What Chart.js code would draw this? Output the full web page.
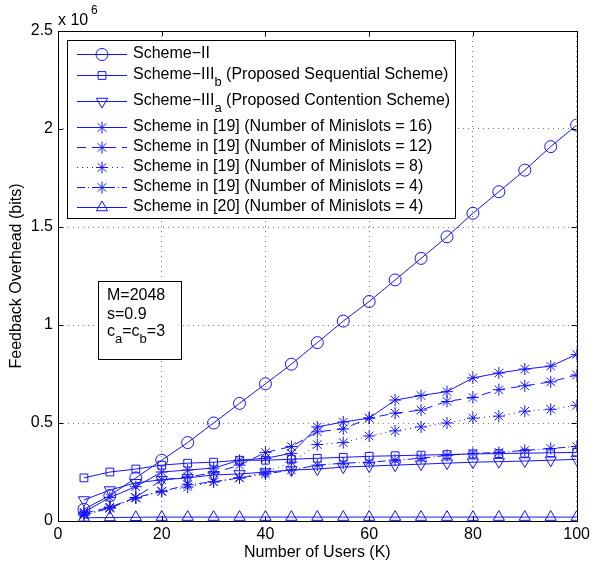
<!DOCTYPE html>
<html>
<head>
<meta charset="utf-8">
<script src="https://cdn.jsdelivr.net/npm/chart.js@4.4.1/dist/chart.umd.min.js"></script>
<style>
  html, body { margin: 0; padding: 0; background: #fff; }
  canvas { display: block; }
</style>
</head>
<body>
<canvas id="chart" width="594" height="565"></canvas>
<script>
// number of users K
const users = [5, 10, 15, 20, 25, 30, 35, 40, 45, 50, 55, 60, 65, 70, 75, 80, 85, 90, 95, 100];

// feedback overhead, in units of 10^6 bits
const schemeII = [0.06, 0.13, 0.22, 0.31, 0.40, 0.50, 0.60, 0.70, 0.80, 0.91, 1.02, 1.12, 1.23, 1.34, 1.45, 1.57, 1.68, 1.79, 1.91, 2.02];
const schemeIIIb = [0.22, 0.25, 0.265, 0.285, 0.295, 0.30, 0.31, 0.31, 0.315, 0.32, 0.325, 0.33, 0.333, 0.336, 0.339, 0.342, 0.344, 0.346, 0.348, 0.35];
const schemeIIIa = [0.107, 0.158, 0.195, 0.21, 0.22, 0.235, 0.24, 0.25, 0.26, 0.265, 0.275, 0.28, 0.285, 0.29, 0.295, 0.30, 0.303, 0.306, 0.31, 0.315];
const ref19m16 = [0.045, 0.12, 0.175, 0.25, 0.26, 0.27, 0.31, 0.32, 0.345, 0.48, 0.505, 0.525, 0.617, 0.64, 0.66, 0.73, 0.755, 0.775, 0.79, 0.85];
const ref19m12 = [0.04, 0.07, 0.12, 0.21, 0.225, 0.245, 0.285, 0.35, 0.38, 0.455, 0.47, 0.525, 0.55, 0.566, 0.61, 0.63, 0.67, 0.69, 0.71, 0.745];
const ref19m8 = [0.035, 0.07, 0.117, 0.153, 0.173, 0.20, 0.22, 0.25, 0.30, 0.39, 0.40, 0.434, 0.46, 0.48, 0.50, 0.525, 0.535, 0.56, 0.57, 0.59];
const ref19m4 = [0.03, 0.065, 0.12, 0.15, 0.185, 0.20, 0.22, 0.24, 0.26, 0.285, 0.295, 0.30, 0.31, 0.32, 0.335, 0.345, 0.35, 0.36, 0.37, 0.38];
const ref20m4 = [0.016, 0.018, 0.019, 0.02, 0.02, 0.02, 0.02, 0.02, 0.02, 0.02, 0.02, 0.02, 0.02, 0.02, 0.02, 0.02, 0.02, 0.02, 0.02, 0.02];

const xTicks = [0, 20, 40, 60, 80, 100];
const yTicks = [0, 0.5, 1, 1.5, 2, 2.5];

const BLUE = 'rgb(20,20,255)';
const FONT = '"Liberation Sans", Arial, Helvetica, sans-serif';
const TXT = 16;

// legend text, pieces with subscript flag
const legendItems = [
  [{ t: 'Scheme\u2212II' }],
  [{ t: 'Scheme\u2212III' }, { t: 'b', sub: true }, { t: ' (Proposed Sequential Scheme)' }],
  [{ t: 'Scheme\u2212III' }, { t: 'a', sub: true }, { t: ' (Proposed Contention Scheme)' }],
  [{ t: 'Scheme in [19] (Number of Minislots = 16)' }],
  [{ t: 'Scheme in [19] (Number of Minislots = 12)' }],
  [{ t: 'Scheme in [19] (Number of Minislots = 8)' }],
  [{ t: 'Scheme in [19] (Number of Minislots = 4)' }],
  [{ t: 'Scheme in [20] (Number of Minislots = 4)' }]
];
const legendRowY = [54, 75, 101, 127, 147, 167, 187, 207];

const toPoints = (vals) => vals.map((v, i) => ({ x: users[i], y: v }));

const makeSet = (vals, style, radius, dash, rotation) => ({
  data: toPoints(vals),
  borderColor: BLUE,
  borderWidth: 1,
  borderDash: dash || [],
  pointStyle: style,
  pointRadius: radius,
  pointRotation: rotation || 0,
  pointBorderColor: BLUE,
  pointBackgroundColor: 'rgba(0,0,0,0)',
  pointBorderWidth: 1,
  fill: false,
  tension: 0
});

const datasets = [
  makeSet(schemeII, 'circle', 6),
  makeSet(schemeIIIb, 'rect', 5.5),
  makeSet(schemeIIIa, 'triangle', 6.5, [], 180),
  makeSet(ref19m16, 'star', 6),
  makeSet(ref19m12, 'star', 6, [9, 6]),
  makeSet(ref19m8, 'star', 6, [1, 4]),
  makeSet(ref19m4, 'star', 6, [8, 3, 1, 3]),
  makeSet(ref20m4, 'triangle', 6.5)
];

function drawMarker(ctx, ds, x, y) {
  ctx.save();
  ctx.strokeStyle = BLUE;
  ctx.fillStyle = 'rgba(0,0,0,0)';
  ctx.lineWidth = 1;
  Chart.helpers.drawPoint(ctx, {
    pointStyle: ds.pointStyle,
    radius: ds.pointRadius,
    rotation: ds.pointRotation,
    borderWidth: 1
  }, x, y);
  ctx.restore();
}

function drawRich(ctx, parts, x, y, size) {
  ctx.textBaseline = 'middle';
  ctx.textAlign = 'left';
  parts.forEach((p) => {
    if (p.sub) {
      ctx.font = (size - 3) + 'px ' + FONT;
      ctx.fillText(p.t, x, y + 7);
    } else {
      ctx.font = size + 'px ' + FONT;
      ctx.fillText(p.t, x, y);
    }
    x += ctx.measureText(p.t).width;
  });
}

const framePlugin = {
  id: 'frame',
  beforeDraw(chart) {
    const ctx = chart.ctx;
    ctx.save();
    ctx.fillStyle = '#fff';
    ctx.fillRect(0, 0, chart.width, chart.height);
    ctx.restore();
  },
  afterDraw(chart) {
    const ctx = chart.ctx;
    const a = chart.chartArea;
    const xs = chart.scales.x, ys = chart.scales.y;
    ctx.save();
    ctx.strokeStyle = '#000';
    ctx.lineWidth = 1;
    ctx.setLineDash([]);
    // axes box
    ctx.strokeRect(Math.round(a.left) + 0.5, Math.round(a.top) + 0.5,
      Math.round(a.right - a.left), Math.round(a.bottom - a.top));
    // inward tick marks
    ctx.beginPath();
    xTicks.forEach((t) => {
      const px = Math.round(xs.getPixelForValue(t)) + 0.5;
      ctx.moveTo(px, a.bottom); ctx.lineTo(px, a.bottom - 5);
      ctx.moveTo(px, a.top); ctx.lineTo(px, a.top + 5);
    });
    yTicks.forEach((t) => {
      const py = Math.round(ys.getPixelForValue(t)) + 0.5;
      ctx.moveTo(a.left, py); ctx.lineTo(a.left + 5, py);
      ctx.moveTo(a.right, py); ctx.lineTo(a.right - 5, py);
    });
    ctx.stroke();

    // exponent label
    ctx.fillStyle = '#000';
    ctx.textBaseline = 'middle';
    ctx.textAlign = 'left';
    ctx.font = TXT + 'px ' + FONT;
    ctx.fillText('x 10', 58, 21);
    ctx.font = '12px ' + FONT;
    ctx.fillText('6', 91, 11);

    // legend box
    ctx.fillStyle = '#fff';
    ctx.fillRect(67.5, 40.5, 388, 178);
    ctx.strokeRect(67.5, 40.5, 388, 178);
    datasets.forEach((ds, i) => {
      const y = legendRowY[i];
      ctx.save();
      ctx.strokeStyle = BLUE;
      ctx.lineWidth = 1;
      ctx.setLineDash(ds.borderDash);
      ctx.beginPath();
      ctx.moveTo(77, y + 0.5);
      ctx.lineTo(127, y + 0.5);
      ctx.stroke();
      ctx.restore();
      drawMarker(ctx, ds, 102, y + 0.5);
      ctx.fillStyle = '#000';
      drawRich(ctx, legendItems[i], 133, y, TXT);
    });

    // parameter box
    ctx.fillStyle = '#fff';
    ctx.fillRect(98.5, 281.5, 83, 78);
    ctx.strokeRect(98.5, 281.5, 83, 78);
    ctx.fillStyle = '#000';
    drawRich(ctx, [{ t: 'M=2048' }], 107, 296, TXT);
    drawRich(ctx, [{ t: 's=0.9' }], 107, 315, TXT);
    drawRich(ctx, [{ t: 'c' }, { t: 'a', sub: true }, { t: '=c' }, { t: 'b', sub: true }, { t: '=3' }], 107, 332, TXT);
    ctx.restore();
  }
};

new Chart(document.getElementById('chart'), {
  type: 'line',
  data: { datasets: datasets },
  plugins: [framePlugin],
  options: {
    responsive: false,
    animation: false,
    devicePixelRatio: 1,
    layout: { padding: { top: 31, right: 14, left: 0, bottom: 0 } },
    plugins: {
      legend: { display: false },
      tooltip: { enabled: false }
    },
    scales: {
      x: {
        type: 'linear',
        min: 0,
        max: 100,
        afterFit: (s) => { s.height = 44; },
        afterBuildTicks: (s) => { s.ticks = xTicks.map((v) => ({ value: v })); },
        ticks: { color: '#000', padding: 4, font: { family: FONT, size: TXT }, maxRotation: 0 },
        grid: { color: '#777', drawTicks: false, lineWidth: 1 },
        border: { display: false, dash: [1, 4] },
        title: {
          display: true,
          text: 'Number of Users (K)',
          color: '#000',
          font: { family: FONT, size: TXT },
          padding: { top: 0, bottom: 3 }
        }
      },
      y: {
        type: 'linear',
        min: 0,
        max: 2.5,
        afterFit: (s) => { s.width = 58; },
        afterBuildTicks: (s) => { s.ticks = yTicks.map((v) => ({ value: v })); },
        ticks: {
          color: '#000',
          padding: 5,
          font: { family: FONT, size: TXT },
          callback: (v) => String(v)
        },
        grid: { color: '#777', drawTicks: false, lineWidth: 1 },
        border: { display: false, dash: [1, 4] },
        title: {
          display: true,
          text: 'Feedback Overhead (bits)',
          color: '#000',
          font: { family: FONT, size: TXT },
          padding: { top: 7, bottom: 0 }
        }
      }
    }
  }
});
</script>
</body>
</html>
